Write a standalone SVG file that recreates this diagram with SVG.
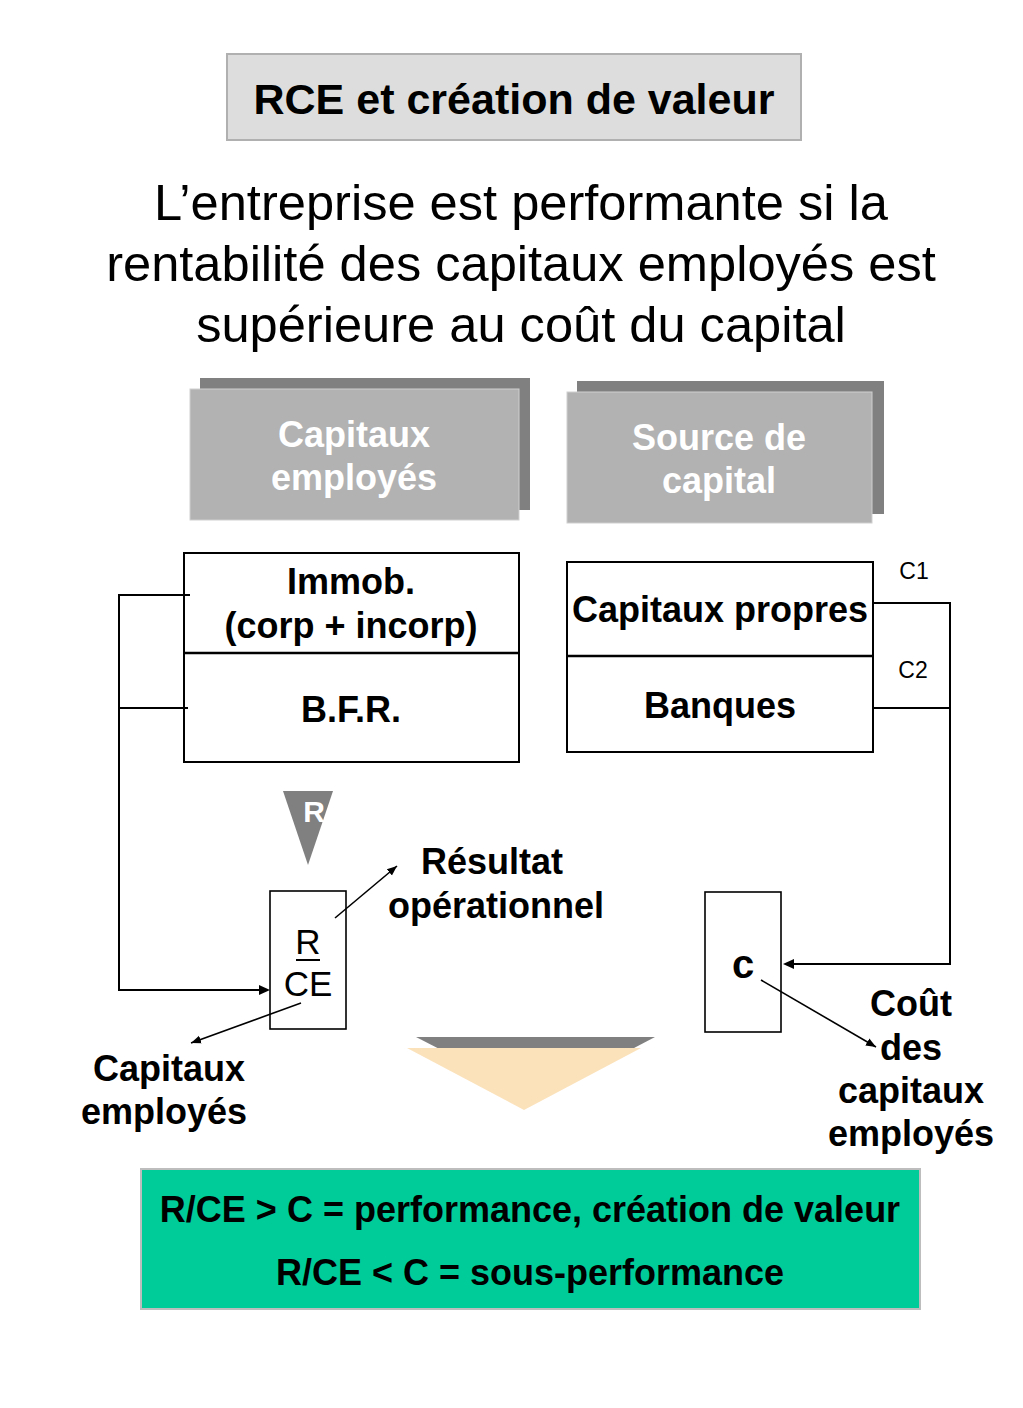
<svg xmlns="http://www.w3.org/2000/svg" width="1023" height="1408" viewBox="0 0 1023 1408">
<defs>
<style>
.b{font-family:"Liberation Sans",Arial,sans-serif;font-weight:bold;fill:#000;text-anchor:middle}
.r{font-family:"Liberation Sans",Arial,sans-serif;fill:#000;text-anchor:middle}
.w{font-family:"Liberation Sans",Arial,sans-serif;font-weight:bold;fill:#fff;text-anchor:middle}
.box{fill:#fff;stroke:#000;stroke-width:2}
.ln{fill:none;stroke:#000;stroke-width:2}
.arr{fill:none;stroke:#000;stroke-width:1.6}
</style>
<marker id="ah" viewBox="0 0 10 10" refX="10" refY="5" markerWidth="10" markerHeight="10" markerUnits="userSpaceOnUse" orient="auto">
<path d="M0,1 L10,5 L0,9 Z" fill="#000"/>
</marker>
</defs>
<rect width="1023" height="1408" fill="#fff"/>

<g id="title">
<rect x="227" y="54" width="574" height="86" fill="#dddddd" stroke="#b0b0b0" stroke-width="2"/>
<text class="b" x="514" y="114" font-size="43">RCE et création de valeur</text>
</g>

<g id="subtitle">
<text class="r" x="521" y="220" font-size="50.6">L’entreprise est performante si la</text>
<text class="r" x="521" y="281" font-size="50.6">rentabilité des capitaux employés est</text>
<text class="r" x="521" y="342" font-size="50.6">supérieure au coût du capital</text>
</g>

<g id="header-capitaux">
<rect x="200" y="378" width="330" height="132" fill="#808080"/>
<rect x="190" y="389" width="329" height="131" fill="#b2b2b2" stroke="#cfcfcf" stroke-width="1"/>
<text class="w" x="354" y="447" font-size="36">Capitaux</text>
<text class="w" x="354" y="490" font-size="36">employés</text>
</g>

<g id="header-source">
<rect x="577" y="381" width="307" height="133" fill="#808080"/>
<rect x="567" y="392" width="305" height="131" fill="#b2b2b2" stroke="#cfcfcf" stroke-width="1"/>
<text class="w" x="719" y="450" font-size="36">Source de</text>
<text class="w" x="719" y="493" font-size="36">capital</text>
</g>

<g id="ce-box">
<rect class="box" x="184" y="553" width="335" height="209"/>
<line x1="184" y1="653" x2="519" y2="653" stroke="#000" stroke-width="2.5"/>
<text class="b" x="351" y="594" font-size="36">Immob.</text>
<text class="b" x="351" y="638" font-size="36">(corp + incorp)</text>
<text class="b" x="351" y="722" font-size="36">B.F.R.</text>
</g>

<g id="source-box">
<rect class="box" x="567" y="562" width="306" height="190"/>
<line x1="567" y1="656" x2="873" y2="656" stroke="#000" stroke-width="2.5"/>
<text class="b" x="720" y="622" font-size="36">Capitaux propres</text>
<text class="b" x="720" y="718" font-size="36">Banques</text>
</g>

<g id="labels-c">
<text class="r" x="914" y="579" font-size="23">C1</text>
<text class="r" x="913" y="678" font-size="23">C2</text>
</g>

<g id="r-triangle">
<polygon points="283,791 333,791 308,865" fill="#808080"/>
<text class="w" x="314" y="822" font-size="30">R</text>
</g>

<g id="rce-box">
<rect x="270" y="891" width="76" height="138" fill="#fff" stroke="#000" stroke-width="1.6"/>
<text class="r" x="308" y="954" font-size="35">R</text>
<line x1="296" y1="960" x2="320" y2="960" stroke="#000" stroke-width="2"/>
<text class="r" x="308" y="996" font-size="35">CE</text>
</g>

<g id="c-box">
<rect x="705" y="892" width="76" height="140" fill="#fff" stroke="#000" stroke-width="1.6"/>
<text class="b" x="743" y="978" font-size="40">c</text>
</g>

<g id="label-resultat">
<text class="b" x="492" y="874" font-size="36">Résultat</text>
<text class="b" x="496" y="918" font-size="36">opérationnel</text>
</g>

<g id="label-capitaux">
<text class="b" x="169" y="1081" font-size="36">Capitaux</text>
<text class="b" x="164" y="1124" font-size="36">employés</text>
</g>

<g id="label-cout">
<text class="b" x="911" y="1016" font-size="36">Coût</text>
<text class="b" x="911" y="1060" font-size="36">des</text>
<text class="b" x="911" y="1103" font-size="36">capitaux</text>
<text class="b" x="911" y="1146" font-size="36">employés</text>
</g>

<g id="bottom-triangle">
<polygon points="416,1037 655,1037 537,1099" fill="#808080"/>
<polygon points="407,1048 641,1048 524,1110" fill="#fbe2bb"/>
</g>

<g id="conclusion">
<rect x="141" y="1169" width="779" height="140" fill="#00cc99" stroke="#bdbdbd" stroke-width="2"/>
<text class="b" x="530" y="1222" font-size="36">R/CE &gt; C = performance, création de valeur</text>
<text class="b" x="530" y="1285" font-size="36">R/CE &lt; C = sous-performance</text>
</g>

<g id="connectors">
<polyline class="ln" points="190,595 119,595 119,990 260,990"/>
<line class="ln" x1="119" y1="708" x2="188" y2="708"/>
<path d="M270,990 L259,985 L259,995 Z" fill="#000"/>
<polyline class="ln" points="873,603 950,603 950,964 793,964"/>
<line class="ln" x1="873" y1="708" x2="950" y2="708"/>
<path d="M783,964 L794,959 L794,969 Z" fill="#000"/>
<line class="arr" x1="335" y1="918" x2="397" y2="866" marker-end="url(#ah)"/>
<line class="arr" x1="301" y1="1003" x2="191" y2="1043" marker-end="url(#ah)"/>
<line class="arr" x1="761" y1="980" x2="876" y2="1047" marker-end="url(#ah)"/>
</g>
</svg>
